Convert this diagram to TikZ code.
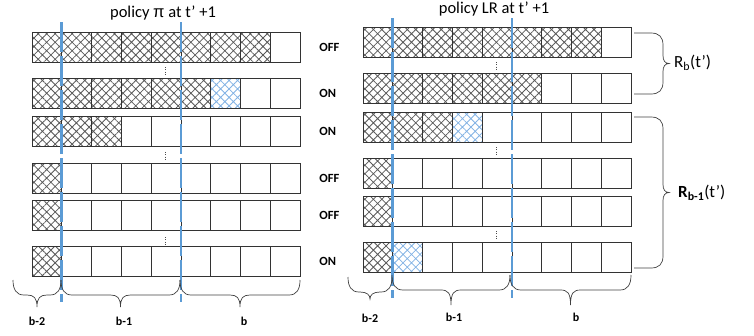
\documentclass[tikz,border=0pt]{standalone}
\usepackage{fontspec}
\setmainfont{Carlito}
\newfontfamily\greekfont{Liberation Sans}
\usetikzlibrary{patterns.meta, positioning}

\definecolor{lineblue}{RGB}{91,155,213}
\definecolor{hatchblue}{RGB}{130,178,228}

\tikzset{
  cell/.style={draw=black!80, line width=0.7pt, minimum width=29.8pt, minimum height=30.5pt, inner sep=0pt, outer sep=0pt},
  busy/.style={cell, pattern={Hatch[angle=45, distance=6pt, line width=0.8pt]}, pattern color=black!65},
  fresh/.style={cell, pattern={Hatch[angle=45, distance=6pt, line width=0.8pt]}, pattern color=hatchblue},
  blueline/.style={lineblue, line width=2.8pt, dash pattern=on 30pt off 4pt},
  bracket/.style={black!75, line width=0.7pt},
  gapmark/.style={black!70, line width=0.7pt, dash pattern=on 0.7pt off 1.6pt},
  statelabel/.style={font=\fontsize{12.5}{14}\selectfont\bfseries, inner sep=0pt, anchor=west},
  grouplabel/.style={font=\fontsize{12}{14}\selectfont\bfseries, inner sep=0pt},
  ratelabel/.style={font=\fontsize{17}{19}\selectfont, inner sep=0pt, anchor=west},
  titlelabel/.style={font=\fontsize{16.5}{19}\selectfont, inner sep=0pt}
}

% brace below a block: x1, x2, top y, depth
\newcommand{\hbrace}[4]{%
  \pgfmathsetmacro\xm{(#1+#2)/2}
  \draw[bracket] (#1,#3) .. controls (#1,#3+9) and (#1+3,#3+15) .. (#1+11,#3+15)
    -- (\xm-10,#3+15) .. controls (\xm-3,#3+15) and (\xm,#3+18) .. (\xm,#3+#4)
    .. controls (\xm,#3+18) and (\xm+3,#3+15) .. (\xm+10,#3+15)
    -- (#2-11,#3+15) .. controls (#2-3,#3+15) and (#2,#3+9) .. (#2,#3);
}
% brace right of a block: x, top y, bottom y
\newcommand{\vbrace}[3]{%
  \pgfmathsetmacro\ym{(#2+#3)/2}
  \draw[bracket] (#1,#2) -- (#1+17,#2) .. controls (#1+25,#2) and (#1+29,#2+4) .. (#1+29,#2+12)
    -- (#1+29,\ym-8) .. controls (#1+29,\ym-3) and (#1+31,\ym) .. (#1+35,\ym)
    .. controls (#1+31,\ym) and (#1+29,\ym+3) .. (#1+29,\ym+8)
    -- (#1+29,#3-12) .. controls (#1+29,#3-4) and (#1+25,#3) .. (#1+17,#3) -- (#1,#3);
}

\begin{document}
\begin{tikzpicture}[x=1pt, y=-1pt]
\useasboundingbox (0,0) rectangle (754,335);

% policy pi
\node[titlelabel] (Ltitle) at (163,13) {policy {\greekfont π} at t’ +1};
\foreach \r/\ytop/\full/\new/\state in {1/32/8/0/OFF, 2/78/6/7/ON, 3/116/3/0/ON, 4/163/1/0/OFF, 5/200/1/0/OFF, 6/246/1/0/ON} {
  \foreach \c in {1,...,9} {
    \ifnum\c>\full \def\kind{cell}\else\def\kind{busy}\fi
    \ifnum\c=\new \def\kind{fresh}\fi
    \node[\kind] (L\r-\c) at ({32+29.8*(\c-0.5)}, {\ytop+15.25}) {};
  }
  \node[statelabel, right=19pt of L\r-9] (L\r-s) {\state};
}
\foreach \y in {67,152,237} \draw[gapmark] (165,\y) -- (165,\y+7);
\draw[blueline] ([yshift=10pt]L1-1.north east) -- ([yshift=-25pt]L6-1.south east);
\draw[blueline] ([yshift=10pt]L1-5.north east) -- ([yshift=-25pt]L6-5.south east);
\hbrace{13}{61}{280}{27}
\hbrace{61}{180}{280}{27}
\hbrace{180}{300}{280}{27}
\node[grouplabel] (Lb2) at (37,321) {b-2};
\node[grouplabel] (Lb1) at (124,321) {b-1};
\node[grouplabel] (Lb0) at (244,321) {b};

% policy LR
\node[titlelabel] (Rtitle) at (494,9) {policy LR at t’ +1};
\foreach \r/\ytop/\full/\new in {1/27/8/0, 2/73/6/0, 3/112/3/4, 4/158/1/0, 5/196/1/0, 6/242/1/2} {
  \foreach \c in {1,...,9} {
    \ifnum\c>\full \def\kind{cell}\else\def\kind{busy}\fi
    \ifnum\c=\new \def\kind{fresh}\fi
    \node[\kind] (R\r-\c) at ({363+29.8*(\c-0.5)}, {\ytop+15.25}) {};
  }
}
\foreach \y in {62,147,231} \draw[gapmark] (496,\y) -- (496,\y+7);
\draw[blueline] ([yshift=9pt]R1-1.north east) -- ([yshift=-25pt]R6-1.south east);
\draw[blueline] ([yshift=9pt]R1-5.north east) -- ([yshift=-25pt]R6-5.south east);
\hbrace{348}{392}{277}{22}
\hbrace{392}{510}{275}{30}
\hbrace{510}{631}{275}{30}
\node[grouplabel] (Rb2) at (370,318) {b-2};
\node[grouplabel] (Rb1) at (454,317) {b-1};
\node[grouplabel] (Rb0) at (576,317) {b};
\vbrace{634}{33}{94}
\vbrace{634}{117}{268}
\node[ratelabel] (Rrate0) at (674,63) {R\textsubscript{b}(t’)};
\node[ratelabel] (Rrate1) at (678,193) {\textbf{R\textsubscript{b-1}}(t’)};
\end{tikzpicture}
\end{document}
